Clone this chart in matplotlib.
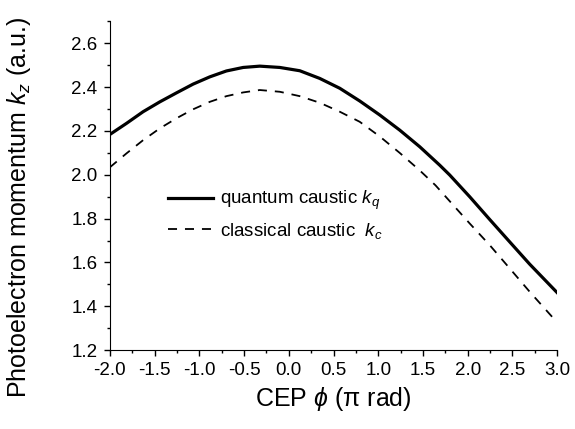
import numpy as np
import matplotlib.pyplot as plt
from matplotlib.ticker import MultipleLocator

plt.rcParams['font.family'] = 'Liberation Sans'
plt.rcParams['mathtext.fontset'] = 'custom'
plt.rcParams['mathtext.rm'] = 'Liberation Sans'
plt.rcParams['mathtext.it'] = 'Liberation Sans:italic'

# valeurs
phi_q = [-2.0, -1.813, -1.628, -1.441, -1.255, -1.069, -0.883, -0.697, -0.51, -0.324,
         -0.1, 0.123, 0.346, 0.57, 0.793, 1.017, 1.24, 1.464, 1.687, 1.799, 2.022,
         2.246, 2.469, 2.693, 3.0]
k_q = [2.184, 2.235, 2.288, 2.333, 2.374, 2.414, 2.447, 2.474, 2.49, 2.496,
       2.49, 2.475, 2.44, 2.395, 2.337, 2.273, 2.204, 2.128, 2.044, 1.999, 1.9,
       1.796, 1.694, 1.592, 1.462]

phi_c = [-2.0, -1.813, -1.628, -1.441, -1.255, -1.069, -0.883, -0.697, -0.51, -0.324,
         -0.1, 0.123, 0.346, 0.57, 0.793, 1.017, 1.24, 1.464, 1.64, 1.855, 2.022,
         2.246, 2.469, 2.693, 3.0]
k_c = [2.034, 2.098, 2.158, 2.212, 2.258, 2.299, 2.333, 2.359, 2.376, 2.387,
       2.379, 2.359, 2.329, 2.288, 2.242, 2.175, 2.1, 2.02, 1.952, 1.854, 1.778,
       1.679, 1.573, 1.466, 1.326]

fig = plt.figure(figsize=(5.75, 4.29), dpi=100)
ax = fig.add_axes([0.191, 0.184, 0.778, 0.766])

ax.plot(phi_q, k_q, color='black', lw=2.3, label='quantum caustic $k_q$')
ax.plot(phi_c, k_c, color='black', lw=1.3, dashes=(5.0, 4.4), label='classical caustic  $k_c$')

ax.set_xlim(-2.0, 3.0)
ax.set_ylim(1.2, 2.7)
ax.xaxis.set_major_locator(MultipleLocator(0.5))
ax.xaxis.set_minor_locator(MultipleLocator(0.25))
ax.yaxis.set_minor_locator(MultipleLocator(0.1))
ax.set_yticks(np.arange(1.2, 2.61, 0.2))
ax.xaxis.set_major_formatter(plt.FormatStrFormatter('%.1f'))
ax.yaxis.set_major_formatter(plt.FormatStrFormatter('%.1f'))

ax.spines['top'].set_visible(False)
ax.spines['right'].set_visible(False)
ax.tick_params(which='major', direction='out', length=4.3, width=1, labelsize=13.5, pad=4.5)
ax.tick_params(which='minor', direction='out', length=2.5, width=1)

ax.set_xlabel('CEP $\\phi$ (π rad)', fontsize=18, labelpad=4)
ax.set_ylabel('Photoelectron momentum $k_z$ (a.u.)', fontsize=18)
ax.yaxis.set_label_coords(-0.172, 0.435)

ax.legend(loc='upper left', bbox_to_anchor=(0.13, 0.49), frameon=False, fontsize=13.5,
          handlelength=2.4, handletextpad=0.4, labelspacing=0.45, borderpad=0, borderaxespad=0)

plt.savefig('out.png', dpi=100)
